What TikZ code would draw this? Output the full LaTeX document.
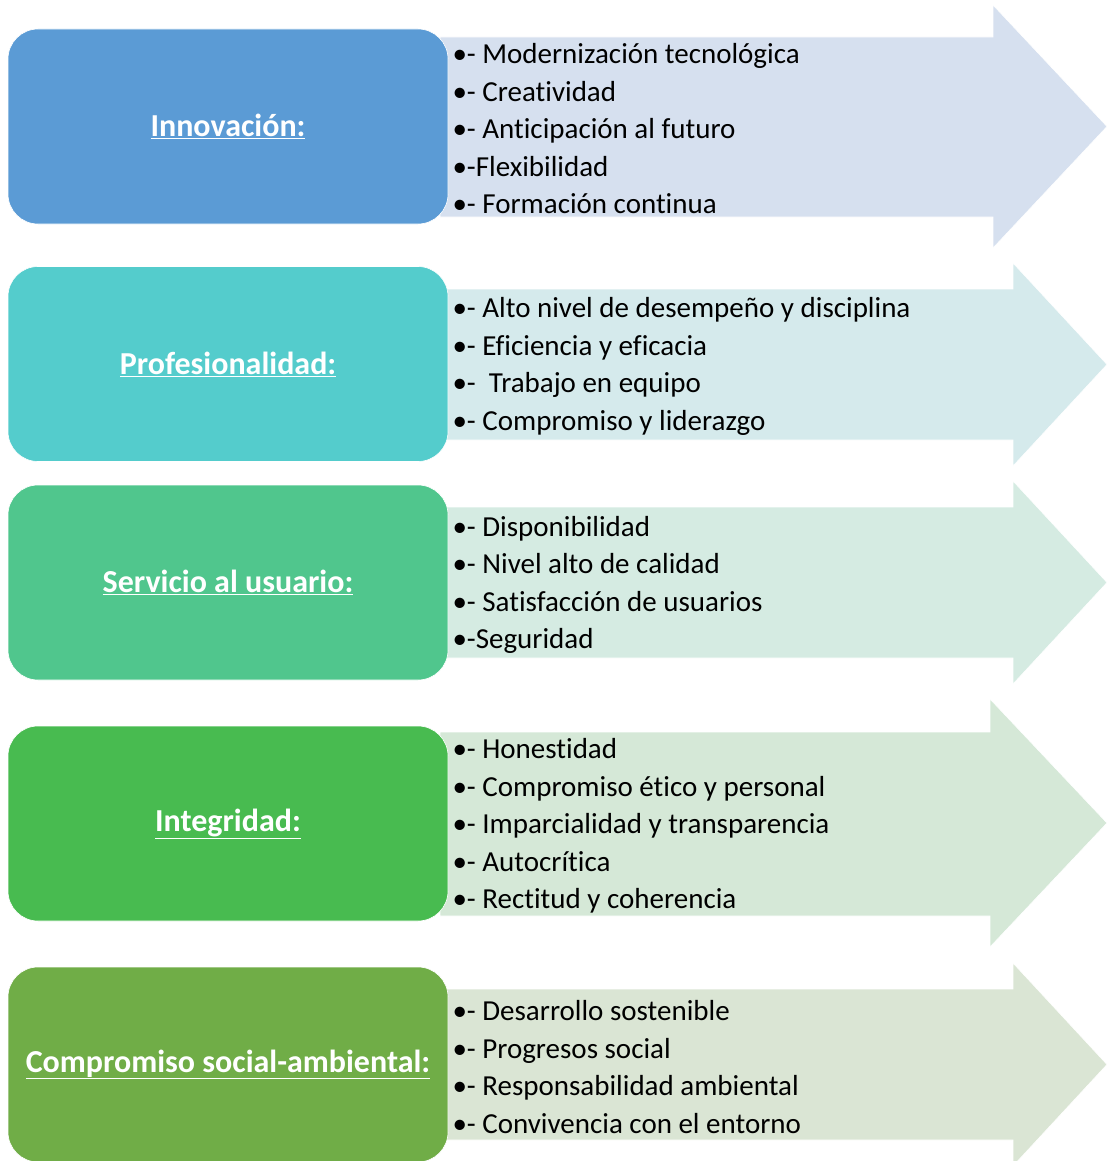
\documentclass[tikz,border=0pt]{standalone}
\usepackage{fontspec}
\setmainfont{Carlito}[Ligatures={NoCommon}]
\definecolor{InnoBlue}{RGB}{91, 155, 213}
\definecolor{ProfTeal}{RGB}{84, 204, 204}
\definecolor{ServMint}{RGB}{80, 198, 141}
\definecolor{IntegGreen}{RGB}{72, 187, 80}
\definecolor{SocOlive}{RGB}{112, 173, 71}
\definecolor{InnoLight}{RGB}{214, 224, 239}
\definecolor{ProfLight}{RGB}{213, 234, 236}
\definecolor{ServLight}{RGB}{213, 235, 226}
\definecolor{IntegLight}{RGB}{213, 232, 215}
\definecolor{SocLight}{RGB}{218, 229, 212}
\usetikzlibrary{positioning}

\begin{document}
\begin{tikzpicture}[
        x=1pt, y=-1pt,
        valbox/.style={rectangle, rounded corners=30pt, draw=white, line width=0.6pt, minimum width=440pt, minimum height=195pt, text=white, font=\fontsize{32}{38}\selectfont\bfseries},
        items/.style={anchor=west, align=left, inner sep=0pt, yshift=-2.5pt, font=\fontsize{29}{37.5}\selectfont},
        shaft/.style={draw=white, line width=0.6pt}
    ]
        \clip (0,0) rectangle (1107,1161);

        % arrows behind the boxes
        \fill [shaft, fill=InnoLight] (440,37) -- (993,37) -- (993,5) -- (1107,126.5) -- (993,248) -- (993,217) -- (440,217) -- cycle;
        \fill [shaft, fill=ProfLight] (440,289) -- (1013,289) -- (1013,263) -- (1107,364.5) -- (1013,466) -- (1013,440) -- (440,440) -- cycle;
        \fill [shaft, fill=ServLight] (440,507) -- (1013,507) -- (1013,481) -- (1107,582.5) -- (1013,684) -- (1013,658) -- (440,658) -- cycle;
        \fill [shaft, fill=IntegLight] (440,732) -- (990,732) -- (990,699) -- (1107,823) -- (990,947) -- (990,916) -- (440,916) -- cycle;
        \fill [shaft, fill=SocLight] (440,989) -- (1013,989) -- (1013,963) -- (1107,1064.5) -- (1013,1166) -- (1013,1140) -- (440,1140) -- cycle;

        % rounded boxes
        \node [valbox, fill=InnoBlue] (inno) at (228,126.5) {\underline{Innovación:}};
        \node [valbox, fill=ProfTeal] (prof) at (228,364) {\underline{Profesionalidad:}};
        \node [valbox, fill=ServMint] (serv) at (228,582.5) {\underline{Servicio al usuario:}};
        \node [valbox, fill=IntegGreen] (integ) at (228,823.5) {\underline{Integridad:}};
        \node [valbox, fill=SocOlive] (soc) at (228,1064.5) {\underline{Compromiso social-ambiental:}};

        % item lists
        \node [items, right=4pt of inno.east] (innoItems) {•- Modernización tecnológica\\ •- Creatividad\\ •- Anticipación al futuro\\ •-Flexibilidad\\ •- Formación continua};
        \node [items, right=4pt of prof.east] (profItems) {•- Alto nivel de desempeño y disciplina\\ •- Eficiencia y eficacia\\ •-\ \ Trabajo en equipo\\ •- Compromiso y liderazgo};
        \node [items, right=4pt of serv.east] (servItems) {•- Disponibilidad\\ •- Nivel alto de calidad\\ •- Satisfacción de usuarios\\ •-Seguridad};
        \node [items, right=4pt of integ.east] (integItems) {•- Honestidad\\ •- Compromiso ético y personal\\ •- Imparcialidad y transparencia\\ •- Autocrítica\\ •- Rectitud y coherencia};
        \node [items, right=4pt of soc.east] (socItems) {•- Desarrollo sostenible\\ •- Progresos social\\ •- Responsabilidad ambiental\\ •- Convivencia con el entorno};
    \end{tikzpicture}
\end{document}
